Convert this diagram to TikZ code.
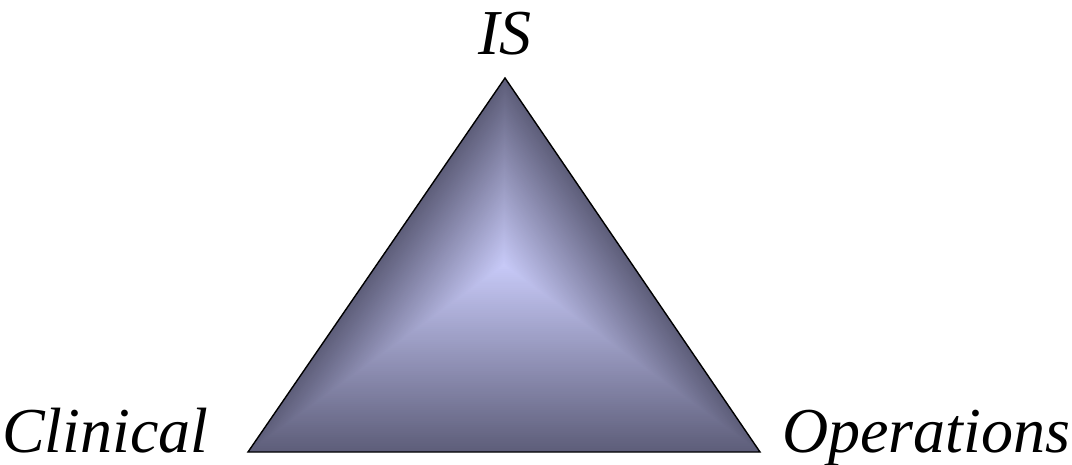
\documentclass[tikz,border=0pt]{standalone}
\usepackage{fontspec}
\setmainfont{Liberation Serif}
\usepackage{tikz}
\usetikzlibrary{positioning,calc}
\definecolor{tridark}{HTML}{5E5E7A}
\definecolor{trilight}{HTML}{C8CAF8}
\tikzset{tlabel/.style={inner sep=0pt, font=\fontsize{64}{70}\selectfont\itshape}}
\tikzset{tedge/.style={draw=black, line width=1.4pt, line join=miter}}

\begin{document}
\begin{tikzpicture}[x=1pt, y=1pt]
  \useasboundingbox (0,0) rectangle (1072,464);

  \coordinate (apex) at (505,386);
  \coordinate (lcorner) at (248,12);
  \coordinate (rcorner) at (760,12);
  \coordinate (ctr) at (504,199);

  % bevel fill: nested triangles shrinking towards the centre
  \foreach \i in {0,...,89} {
    \pgfmathsetmacro\k{1-\i/90}
    \pgfmathsetmacro\p{100*\i/90}
    \fill[trilight!\p!tridark] ($(ctr)!\k!(apex)$) -- ($(ctr)!\k!(lcorner)$) -- ($(ctr)!\k!(rcorner)$) -- cycle;
  }
  \draw[tedge] (apex) -- (lcorner) -- (rcorner) -- cycle;

  \node[tlabel, anchor=base] (islbl) at (505,409) {IS};
  \node[tlabel, anchor=base west] (clinlbl) at (2,12) {Clinical};
  \node[tlabel, anchor=base west] (opslbl) at (782,12) {Operations};
\end{tikzpicture}
\end{document}
